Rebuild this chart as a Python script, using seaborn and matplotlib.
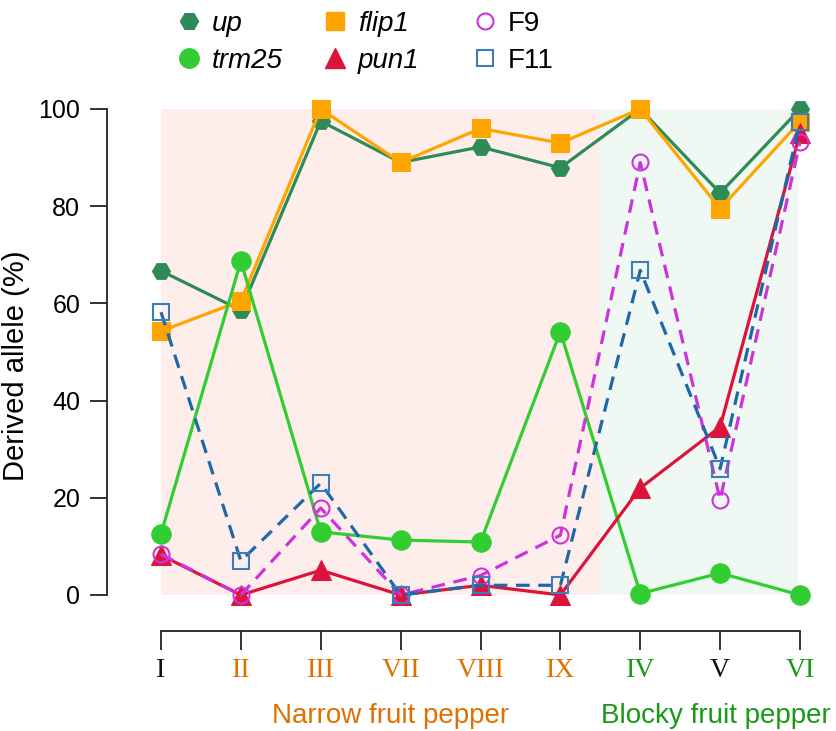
import numpy as np
import pandas as pd
import matplotlib
matplotlib.use("Agg")
import matplotlib.pyplot as plt
from matplotlib.lines import Line2D
import seaborn as sns

# ---------------- data ----------------
categories = ["I", "II", "III", "VII", "VIII", "IX", "IV", "V", "VI"]
cat_colors = ["#111111", "#E07000", "#E07000", "#E07000", "#E07000", "#E07000",
              "#179A17", "#111111", "#179A17"]
up = [66.7, 58.6, 97.5, 89.0, 92.2, 87.9, 100.0, 82.7, 100.0]
flip1 = [54.3, 60.5, 100.0, 89.0, 96.0, 93.0, 100.0, 79.5, 97.4]
trm25 = [12.6, 68.7, 13.0, 11.3, 10.9, 54.2, 0.3, 4.5, 0.0]
pun1 = [8.2, 0.0, 5.1, 0.0, 2.0, 0.0, 22.0, 34.6, 95.0]
F9 = [8.4, 0.0, 17.9, 0.0, 4.0, 12.3, 89.0, 19.6, 93.2]
F11 = [58.2, 7.0, 23.0, 0.0, 2.0, 2.0, 66.8, 26.0, 97.4]
yticks = [0, 20, 40, 60, 80, 100]
group_labels = ["Narrow fruit pepper", "Blocky fruit pepper"]
group_colors = ["#E07000", "#179A17"]

series = [
    ("up", up, dict(color="#2E8B57", marker="H", markersize=13, linestyle="-",
                    markerfacecolor="#2E8B57", markeredgecolor="#2E8B57"), True),
    ("flip1", flip1, dict(color="#FFA500", marker="s", markersize=13, linestyle="-",
                          markerfacecolor="#FFA500", markeredgecolor="#FFA500"), True),
    ("trm25", trm25, dict(color="#32CD32", marker="o", markersize=14, linestyle="-",
                          markerfacecolor="#32CD32", markeredgecolor="#32CD32"), True),
    ("pun1", pun1, dict(color="#DC143C", marker="^", markersize=14, linestyle="-",
                        markerfacecolor="#DC143C", markeredgecolor="#DC143C"), True),
    ("F9", F9, dict(color="#CC33DD", marker="o", markersize=11.5, linestyle=(0, (4.3, 2.7)),
                    markerfacecolor="none", markeredgecolor="#CC33DD", markeredgewidth=1.5), False),
    ("F11", F11, dict(color="#1F68A8", marker="s", markersize=11, linestyle=(0, (4.3, 2.7)),
                      markerfacecolor="none", markeredgecolor="#3A7DB8", markeredgewidth=1.5), False),
]

rows = []
for name, vals, _, _ in series:
    for i, (c, v) in enumerate(zip(categories, vals)):
        rows.append({"series": name, "pos": i, "group": c, "value": v})
df = pd.DataFrame(rows)

sns.set_style("white")
plt.rcParams["font.family"] = ["Liberation Sans", "DejaVu Sans"]
plt.rcParams["text.color"] = "black"
plt.rcParams["axes.labelcolor"] = "black"
plt.rcParams["xtick.color"] = "black"
plt.rcParams["ytick.color"] = "black"

W, H = 836, 731
fig = plt.figure(figsize=(W / 100, H / 100), dpi=100)
ax = fig.add_axes([107 / W, (H - 660) / H, 729 / W, 560 / H])
ax.set_facecolor("white")

ppu_x = (800 - 161) / 8.0
ppu_y = (595 - 109) / 100.0
ax.set_xlim(-(161 - 107) / ppu_x, (836 - 161) / ppu_x)
ax.set_ylim(-(660 - 595) / ppu_y, (595 - 100) / ppu_y)

# background group shading
n = len(categories)
split = 5.5
ax.fill_between([0, split], 0, 100, color="#FDEEEC", zorder=0, linewidth=0)
ax.fill_between([split, n - 1 - 0.02], 0, 100, color="#EFF8F2", zorder=0, linewidth=0)

for k, (name, vals, kw, _) in enumerate(series):
    sub = df[df["series"] == name]
    sns.lineplot(data=sub, x="pos", y="value", ax=ax, linewidth=2.3,
                 zorder=3 + k, legend=False, sort=False, **kw)

# axes styling (R-like detached axes)
for s in ["top", "right"]:
    ax.spines[s].set_visible(False)
ax.spines["left"].set_bounds(0, 100)
ax.spines["bottom"].set_bounds(0, n - 1)
ax.spines["bottom"].set_position(("data", -(631 - 595) / ppu_y))
for s in ["left", "bottom"]:
    ax.spines[s].set_color("#222222")
    ax.spines[s].set_linewidth(1.3)

ax.set_yticks(yticks)
ax.set_yticklabels([str(t) for t in yticks])
ax.set_xticks(range(n))
ax.set_xticklabels(categories)
ax.tick_params(axis="y", direction="out", length=12.2, width=1.3, color="#222222",
               labelcolor="black", labelsize=18, pad=7, left=True)
ax.tick_params(axis="x", direction="out", length=13.5, width=1.3, color="#222222",
               pad=6, bottom=True)
for lab, col in zip(ax.get_xticklabels(), cat_colors):
    lab.set_color(col)
    lab.set_fontfamily(["Liberation Serif", "DejaVu Serif"])
    lab.set_fontsize(20)

ax.set_xlabel("")
ax.set_ylabel("Derived allele (%)", fontsize=21, color="black")
ax.yaxis.set_label_coords(-(107 - 30) / 729, (660 - 366) / 560)

# group labels
fig.text(272 / W, (H - 723) / H, group_labels[0], color=group_colors[0], fontsize=20,
         ha="left", va="baseline")
fig.text(601 / W, (H - 723) / H, group_labels[1], color=group_colors[1], fontsize=20,
         ha="left", va="baseline")

# legend: three columns
cols = [[0, 2], [1, 3], [4, 5]]
col_x = [189, 335, 485]
for ci, idxs in enumerate(cols):
    handles, labels = [], []
    for idx in idxs:
        name, _, kw, _ = series[idx]
        h = Line2D([], [], linestyle="none", marker=kw["marker"],
                   markersize=kw["markersize"], markerfacecolor=kw["markerfacecolor"],
                   markeredgecolor=kw["markeredgecolor"],
                   markeredgewidth=kw.get("markeredgewidth", 1.0))
        handles.append(h)
        labels.append(name)
    fs = 20
    em = fs * 100 / 72
    leg = fig.legend(handles, labels, loc="upper left",
                     bbox_to_anchor=((col_x[ci] - 0.5 * em) / W, 1 - 11 / H),
                     frameon=False, fontsize=fs, handlelength=1.0, handletextpad=0.33,
                     borderpad=0, borderaxespad=0, labelspacing=0.38)
    for t, idx in zip(leg.get_texts(), idxs):
        t.set_color("black")
        if series[idx][3]:
            t.set_fontstyle("italic")

fig.savefig("out.png", dpi=100, facecolor="white")
